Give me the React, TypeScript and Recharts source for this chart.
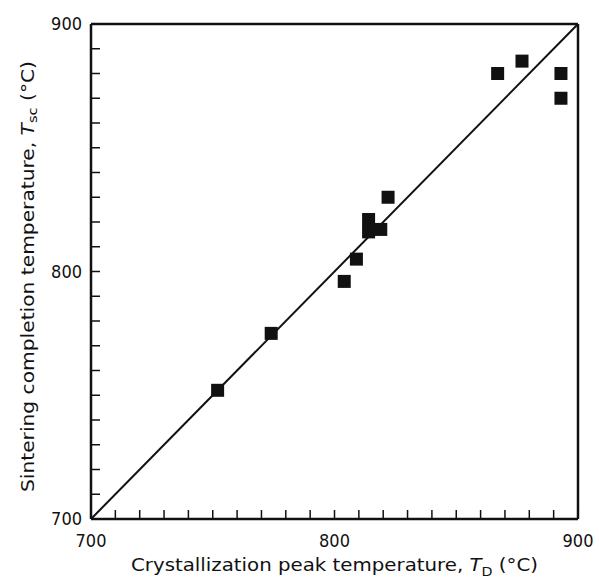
import React from 'react';
import { ScatterChart, Scatter, XAxis, YAxis, ReferenceLine } from 'recharts';

// crystallization peak temperature T_D (°C)
const peakTemp = [752, 774, 804, 809, 814, 814, 819, 822, 867, 877, 893, 893];
// sintering completion temperature T_sc (°C)
const sinterTemp = [752, 775, 796, 805, 821, 816, 817, 830, 880, 885, 880, 870];

const axisTicks = [
  700, 710, 720, 730, 740, 750, 760, 770, 780, 790, 800,
  810, 820, 830, 840, 850, 860, 870, 880, 890, 900,
];
const labelledTicks = [700, 800, 900];

const points = peakTemp.map((t, i) => ({ x: t, y: sinterTemp[i] }));

const FONT = '"DejaVu Sans Condensed", "DejaVu Sans", sans-serif';
const INK = '#111';

// ticks point into the plot; only the hundreds carry a label
const XTick = ({ x, y, payload }: any) => (
  <g>
    <line x1={x} y1={y} x2={x} y2={y - 9} stroke={INK} strokeWidth={1.5} />
    {labelledTicks.includes(payload.value) && (
      <text x={x} y={y + 28} textAnchor="middle" fontSize={18} fontFamily={FONT} fill={INK}>
        {payload.value}
      </text>
    )}
  </g>
);

const YTick = ({ x, y, payload }: any) => (
  <g>
    <line x1={x} y1={y} x2={x + 9} y2={y} stroke={INK} strokeWidth={1.5} />
    {labelledTicks.includes(payload.value) && (
      <text x={x - 9} y={y + 6} textAnchor="end" fontSize={18} fontFamily={FONT} fill={INK}>
        {payload.value}
      </text>
    )}
  </g>
);

const XTitle = ({ viewBox }: any) => {
  const cx = viewBox.x + viewBox.width / 2;
  return (
    <text
      x={cx}
      y={viewBox.y + 52}
      textAnchor="middle"
      fontSize={18}
      fontFamily={FONT}
      fill={INK}
      textLength={407}
      lengthAdjust="spacingAndGlyphs"
    >
      Crystallization peak temperature,{' '}
      <tspan fontStyle="italic">T</tspan>
      <tspan fontSize={13} dy={5}>D</tspan>
      <tspan dy={-5}> (°C)</tspan>
    </text>
  );
};

const YTitle = ({ viewBox }: any) => {
  const cy = viewBox.y + viewBox.height / 2 + 5;
  const cx = 27;
  return (
    <text
      x={cx}
      y={cy}
      transform={`rotate(-90, ${cx}, ${cy})`}
      textAnchor="middle"
      dominantBaseline="central"
      fontSize={18}
      fontFamily={FONT}
      fill={INK}
      textLength={431}
      lengthAdjust="spacingAndGlyphs"
    >
      Sintering completion temperature,{' '}
      <tspan fontStyle="italic">T</tspan>
      <tspan fontSize={13} dy={5}>sc</tspan>
      <tspan dy={-5}> (°C)</tspan>
    </text>
  );
};

const SquareMark = ({ cx, cy }: any) => (
  <rect x={cx - 6.5} y={cy - 6.5} width={13} height={13} fill={INK} />
);

export default function App() {
  return (
    <div style={{ position: 'absolute', left: 0, top: 0, background: '#fff' }}>
      <ScatterChart width={599} height={581} margin={{ top: 24, right: 21, left: 0, bottom: 0 }}>
        <XAxis
          type="number"
          dataKey="x"
          domain={[700, 900]}
          ticks={axisTicks}
          interval={0}
          height={62}
          tickLine={false}
          tickSize={0}
          tickMargin={0}
          axisLine={{ stroke: INK, strokeWidth: 2.5 }}
          tick={<XTick />}
          label={<XTitle />}
        />
        <YAxis
          type="number"
          dataKey="y"
          domain={[700, 900]}
          ticks={axisTicks}
          interval={0}
          width={91}
          tickLine={false}
          tickSize={0}
          tickMargin={0}
          axisLine={{ stroke: INK, strokeWidth: 2.5 }}
          tick={<YTick />}
          label={<YTitle />}
        />
        {/* frame on the top and right */}
        <ReferenceLine y={900} stroke={INK} strokeWidth={2.5} />
        <ReferenceLine x={900} stroke={INK} strokeWidth={2.5} />
        {/* T_sc = T_D */}
        <ReferenceLine
          segment={[{ x: 700, y: 700 }, { x: 900, y: 900 }]}
          stroke={INK}
          strokeWidth={2}
        />
        <Scatter data={points} shape={<SquareMark />} isAnimationActive={false} />
      </ScatterChart>
    </div>
  );
}
